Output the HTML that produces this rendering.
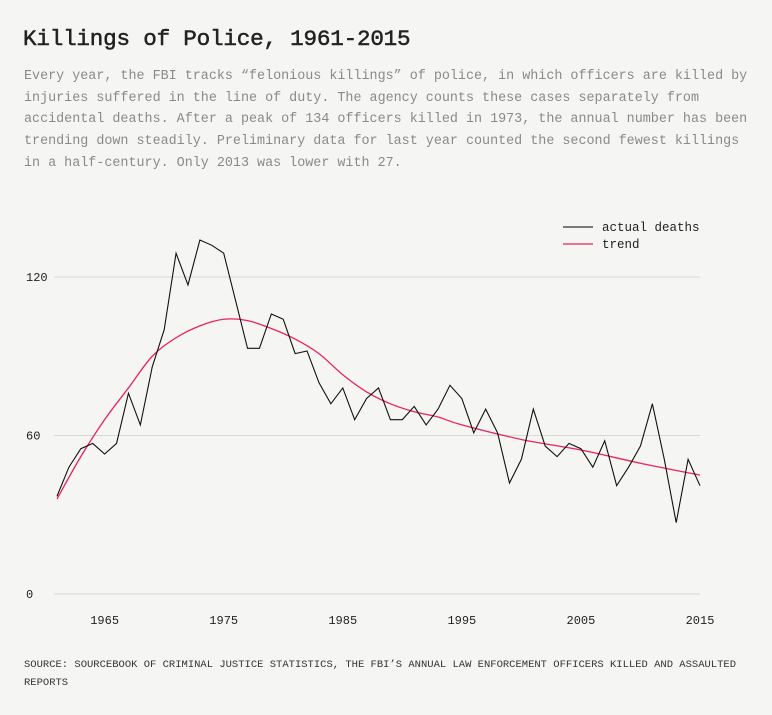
<!DOCTYPE html>
<html><head><meta charset="utf-8"><style>
body{margin:0;background:#f5f5f3;width:772px;height:715px;overflow:hidden;font-family:"Liberation Mono",monospace;}
#title{position:absolute;left:23px;top:26px;font-size:22.6px;font-weight:normal;color:#222;margin:0;white-space:nowrap;letter-spacing:-0.2px;-webkit-text-stroke:0.5px #222}
#desc{position:absolute;left:24px;top:66px;width:740px;font-size:13.4px;line-height:21.7px;color:#8a8a8a;margin:0;white-space:pre}
#src{position:absolute;left:24px;top:656px;font-size:10.5px;line-height:18px;color:#333;white-space:pre}
svg{position:absolute;left:0;top:0}
</style></head><body>
<h1 id="title">Killings of Police, 1961-2015</h1>
<p id="desc">Every year, the FBI tracks “felonious killings” of police, in which officers are killed by
injuries suffered in the line of duty. The agency counts these cases separately from
accidental deaths. After a peak of 134 officers killed in 1973, the annual number has been
trending down steadily. Preliminary data for last year counted the second fewest killings
in a half-century. Only 2013 was lower with 27.</p>
<svg id="chart" width="772" height="715"></svg>
<div id="src">SOURCE: SOURCEBOOK OF CRIMINAL JUSTICE STATISTICS, THE FBI’S ANNUAL LAW ENFORCEMENT OFFICERS KILLED AND ASSAULTED
REPORTS</div>
<script>
const startYear = 1961;
const deaths = [37,48,55,57,53,57,76,64,86,100,129,117,134,132,129,111,93,93,106,104,91,92,80,72,78,66,74,78,66,66,71,64,70,79,74,61,70,61,42,51,70,56,52,57,55,48,58,41,48,56,72,51,27,51,41];
const trendYears = [1961,1963,1965,1967,1969,1971,1973,1975,1977,1979,1981,1983,1985,1987,1989,1991,1993,1995,2000,2005,2010,2015];
const trendValues = [36,52,66,78,90,97,101.5,104,103.5,100.5,96.5,91,83,76.5,72,69,67,64,58.5,54.5,49.5,45];
const yTicks = [0,60,120];
const xTicks = [1965,1975,1985,1995,2005,2015];

const NS='http://www.w3.org/2000/svg';
const svg=document.getElementById('chart');
const x=yr=>57+(yr-1961)*(700-57)/54;
const y=v=>594-v*(594-277)/120;
function mk(t,a){const e=document.createElementNS(NS,t);for(const k in a)e.setAttribute(k,a[k]);svg.appendChild(e);return e;}

yTicks.forEach(t=>{
  const g=mk('line',{x1:54,x2:700,y1:y(t),y2:y(t),stroke:'#d8d8d6','stroke-width':1});
  
  
  const l=mk('text',{x:26,y:y(t)+4,'font-size':12,fill:'#222','font-family':'Liberation Mono, monospace'});
  l.textContent=t;
  
  
});
xTicks.forEach(t=>{
  const l=mk('text',{x:x(t),y:624,'font-size':12,fill:'#222','text-anchor':'middle','font-family':'Liberation Mono, monospace'});
  l.textContent=t;
  
  
});

const tp=trendYears.map((yr,i)=>[x(yr),y(trendValues[i])]);
let d='M'+tp[0][0]+','+tp[0][1];
for(let i=0;i<tp.length-1;i++){
  const p0=tp[i-1]||tp[i],p1=tp[i],p2=tp[i+1],p3=tp[i+2]||p2;
  const c1=[p1[0]+(p2[0]-p0[0])/6,p1[1]+(p2[1]-p0[1])/6];
  const c2=[p2[0]-(p3[0]-p1[0])/6,p2[1]-(p3[1]-p1[1])/6];
  d+=`C${c1[0]},${c1[1]} ${c2[0]},${c2[1]} ${p2[0]},${p2[1]}`;
}
const trend=mk('path',{d:d,fill:'none',stroke:'#e8245a','stroke-width':1.3});



const pts=deaths.map((v,i)=>x(startYear+i)+','+y(v)).join(' ');
const actual=mk('polyline',{points:pts,fill:'none',stroke:'#111','stroke-width':1.1});



[['actual deaths','#333',227],['trend','#e8245a',244]].forEach(([lab,c,yy])=>{
  const ln=mk('line',{x1:563,x2:593,y1:yy,y2:yy,stroke:c,'stroke-width':1.3});
  
  
  const t=mk('text',{x:602,y:yy+4,'font-size':12.5,fill:'#222','font-family':'Liberation Mono, monospace'});
  t.textContent=lab;
  
  
});
</script>
</body></html>
